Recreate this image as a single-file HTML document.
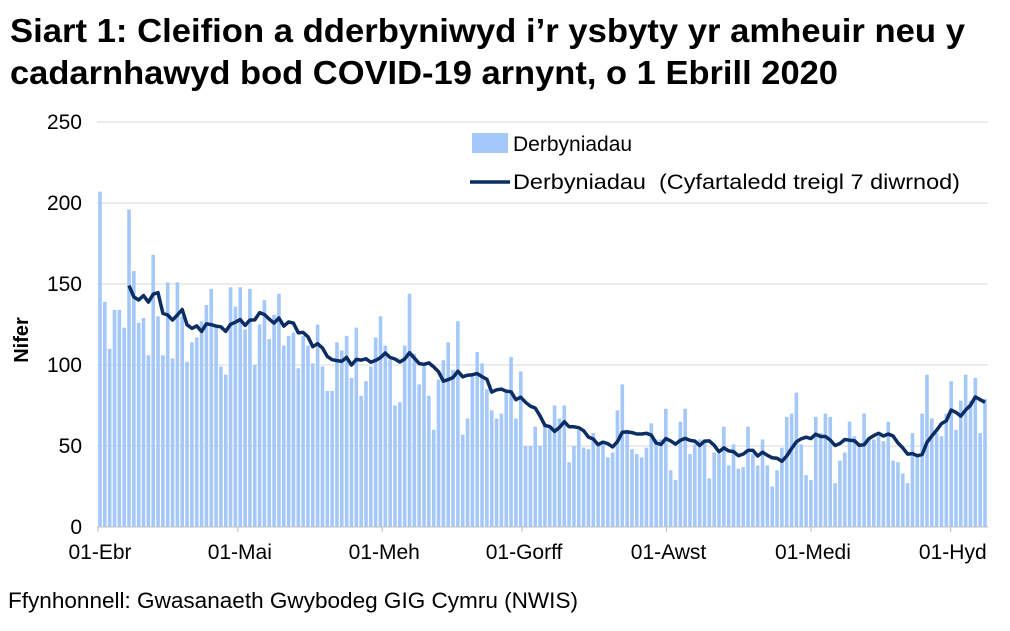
<!DOCTYPE html>
<html><head><meta charset="utf-8"><style>
body{margin:0;background:#fff;}
svg text{font-family:"Liberation Sans",Arial,sans-serif;}
</style></head><body>
<svg id="s" width="1010" height="626" xmlns="http://www.w3.org/2000/svg">
<rect width="1010" height="626" fill="#fff"/>
<text x="10" y="42" font-size="33" font-weight="bold" fill="#000" textLength="955" lengthAdjust="spacingAndGlyphs">Siart 1: Cleifion a dderbyniwyd i’r ysbyty yr amheuir neu y</text>
<text x="10" y="84" font-size="33" font-weight="bold" fill="#000" textLength="828" lengthAdjust="spacingAndGlyphs">cadarnhawyd bod COVID-19 arnynt, o 1 Ebrill 2020</text>
<g id="grid"></g>
<g id="bars" fill="#a4c8fa"></g>
<polyline id="ma" fill="none" stroke="#0b2d63" stroke-width="3.5" stroke-linejoin="round"/>
<line x1="97" y1="527" x2="988" y2="527" stroke="#bfbfbf" stroke-width="1"/>
<g id="lab" font-size="21" fill="#000"></g>
<text transform="translate(28,340) rotate(-90)" font-size="20" font-weight="bold" text-anchor="middle">Nifer</text>
<rect x="472" y="133" width="36" height="20" fill="#a4c8fa"/>
<text x="513" y="151" font-size="21">Derbyniadau</text>
<line x1="470" y1="182" x2="510" y2="182" stroke="#0b2d63" stroke-width="3.5"/>
<text x="513" y="189" font-size="21" xml:space="preserve" textLength="447" lengthAdjust="spacingAndGlyphs">Derbyniadau  (Cyfartaledd treigl 7 diwrnod)</text>
<text x="8" y="608" font-size="22" textLength="570" lengthAdjust="spacingAndGlyphs">Ffynhonnell: Gwasanaeth Gwybodeg GIG Cymru (NWIS)</text>
</svg>
<script>
var d=[207,139,110,134,134,123,196,158,126,129,106,168,130,106,151,104,151,130,102,114,117,127,137,147,124,99,94,148,136,148,122,147,100,125,140,116,131,144,112,118,120,98,118,112,101,125,99,84,84,
114,109,118,92,123,81,90,99,117,130,112,103,75,77,112,144,107,88,100,81,60,91,103,114,97,127,57,67,93,108,101,85,72,67,70,84,105,67,96,50,50,
62,50,64,62,75,67,75,40,50,60,49,48,58,51,51,43,46,72,88,60,48,45,43,49,64,54,54,73,35,29,65,73,45,51,54,54,30,46,45,62,38,51,36,37,62,45,38,54,
38,25,35,49,68,70,83,51,32,29,68,58,70,68,27,41,46,65,56,50,70,54,54,56,53,65,41,40,33,27,58,44,70,94,67,58,56,70,90,60,78,94,78,92,58,79];
var X0=100,Y0=527,K=1.62,P=885/(d.length-1),TP=4.66,ns="http://www.w3.org/2000/svg";
function el(t,a,p){var e=document.createElementNS(ns,t);for(var k in a)e.setAttribute(k,a[k]);document.getElementById(p).appendChild(e);return e;}
for(var v=50;v<=250;v+=50){var y=Y0-v*K;el("line",{x1:97,x2:988,y1:y,y2:y,stroke:"#d9d9d9","stroke-width":1},"grid");}
for(var v=0;v<=250;v+=50){var t=el("text",{x:82,y:Y0-v*K+7,"text-anchor":"end"},"lab");t.textContent=v;}
var ticks=[[0,"01-Ebr"],[30,"01-Mai"],[61,"01-Meh"],[91,"01-Gorff"],[122,"01-Awst"],[153,"01-Medi"],[183,"01-Hyd"]];
ticks.forEach(function(a){var x=X0+a[0]*TP;el("line",{x1:x-2,x2:x-2,y1:527,y2:532,stroke:"#bfbfbf"},"grid");var t=el("text",{x:x,y:559,"text-anchor":"middle"},"lab");t.textContent=a[1];});
var pts=[];
d.forEach(function(v,i){var x=X0+i*P;el("rect",{x:x-1.8,y:Y0-v*K,width:3.6,height:v*K},"bars");
if(i>=6){var s=0;for(var j=i-6;j<=i;j++)s+=d[j];pts.push(x.toFixed(1)+","+(Y0-s/7*K).toFixed(1));}});
document.getElementById("ma").setAttribute("points",pts.join(" "));
</script>
</body></html>
